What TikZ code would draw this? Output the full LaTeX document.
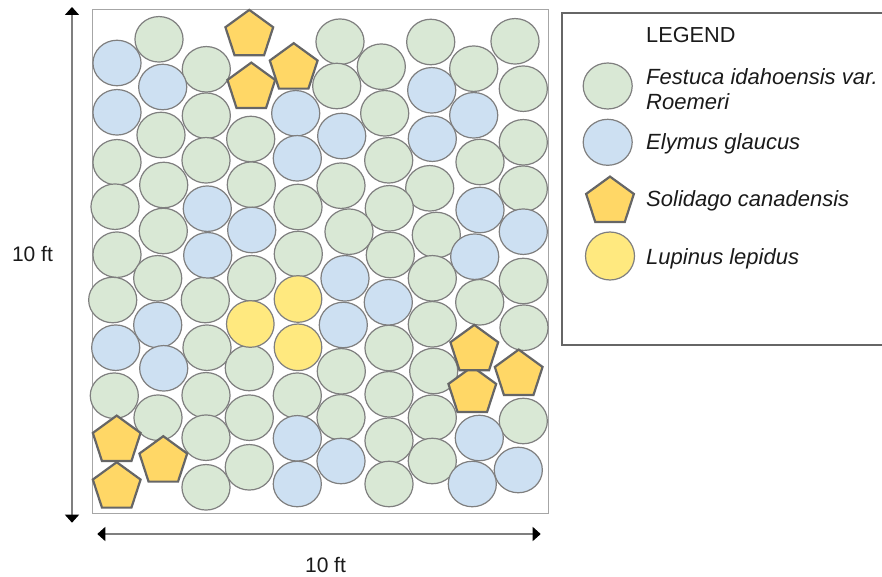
\documentclass[tikz,border=0pt]{standalone}
\usepackage{fontspec}
\setmainfont{Liberation Sans}
\usetikzlibrary{shapes.geometric,arrows.meta}
\definecolor{cgreen}{HTML}{D9E8D5}
\definecolor{cblue}{HTML}{CDE0F2}
\definecolor{cgold}{HTML}{FFD766}
\definecolor{cyel}{HTML}{FFE97F}
\definecolor{cedge}{HTML}{7F7F7F}
\definecolor{cedgeb}{HTML}{666666}
\definecolor{ctxt}{HTML}{1A1A1A}
\tikzset{
  plant/.style={ellipse,draw=cedge,line width=1.2pt,inner sep=0pt,outer sep=0pt,minimum width=48.1pt,minimum height=45.5pt},
  greenplant/.style={plant,fill=cgreen},
  blueplant/.style={plant,fill=cblue},
  yellowplant/.style={plant,fill=cyel,minimum width=47.6pt,minimum height=46.6pt},
  pentplant/.style={regular polygon,regular polygon sides=5,draw=cedgeb,line width=2.2pt,fill=cgold,inner sep=0pt,outer sep=0pt,minimum size=50.2pt},
  label/.style={anchor=base west,inner sep=0pt,text=ctxt,font=\fontsize{21}{25}\selectfont},
  legendhead/.style={label,font=\fontsize{21.7}{25}\selectfont},
  species/.style={label,font=\fontsize{22}{25}\selectfont\itshape},
  dim/.style={draw=cedge,line width=1.5pt,{Triangle[length=8pt,width=14pt,color=black]}-{Triangle[length=8pt,width=14pt,color=black]}}
}
\begin{document}
\begin{tikzpicture}[x=1pt,y=-1pt]
\useasboundingbox (0,0) rectangle (882,577);
\node[draw=gray!70,line width=1.3pt,fill=white,inner sep=0pt,outer sep=0pt,minimum width=455.6pt,minimum height=503.6pt] (plot) at (320.5,261.5) {};
\foreach \x/\y [count=\i] in {159/39.3,206.3/69.3,161/135,206.3/115.7,250.7/139,117/162.3,206/160.3,163.7/185,251.3/184.7,115/206.7,163.3/231,298/207,117/254.7,298.3/254,340/41.7,381.3/66.7,430.7/42,473.7/68.7,515/41.3,336.7/86,523.3/88.7,384.7/113.3,523.3/142.3,388.7/160.3,480/162,341/185.7,429.7/188.3,523.3/188.7,389.3/208.3,349/231.7,436.3/235,390.3/255,157.7/278.3,251.7/278.3,112.7/300,205.3/300,207/347.7,249.3/368,114.3/395.7,206/395.3,297.3/395.7,158/417.7,249.3/417.7,206/437.7,249.3/467.3,206/487.3,432.3/278.3,523.3/281,479.7/302.3,432.3/324.3,524/327.7,389/348,341.3/371.3,433.7/371,389/394.3,341/417.3,432.3/417.7,523.3/421,389/440.7,432.3/461,389/484}
  \node[greenplant] (g\i) at (\x,\y) {};
\foreach \x/\y [count=\i] in {117/63,162.7/87,117/112.3,295.7/113.3,297.3/158.3,207.3/208.7,251.7/230,207.7/255.3,431.7/90.3,473.7/115.3,341.7/136,432.3/138.7,480/210,523.3/231.7,474.7/256.7,157.7/325,115.7/347.7,163.7/368.3,297.3/438.3,297.3/484,345/278.3,388.3/302.3,343.3/325,479.3/438,341/461,518.3/470,472.3/484}
  \node[blueplant] (b\i) at (\x,\y) {};
\foreach \x/\y [count=\i] in {298/299,250.3/324,298/347.3}
  \node[yellowplant] (y\i) at (\x,\y) {};
\foreach \x/\y [count=\i] in {249.3/35,251.3/87.7,293.7/68.3,116.7/440.7,163.3/461.3,116.7/487.3,472.3/391.7,474.3/350,518.7/374.7}
  \node[pentplant] (p\i) at (\x,\y) {};
% dimension arrows
\coordinate (vt) at (72,7);
\coordinate (vb) at (72,522.7);
\coordinate (hl) at (97.3,534);
\coordinate (hr) at (540.7,534);
\draw[dim] (vt) -- (vb);
\draw[dim] (hl) -- (hr);
\node[label,anchor=base] (dimv) at (32.5,261) {10 ft};
\node[label,anchor=base] (dimh) at (325.5,572) {10 ft};
% legend
\draw[draw=cedgeb,line width=1.6pt] (882,13.3) -- (561.7,13.3) -- (561.7,345) -- (882,345);
\node[legendhead] (legtitle) at (646,42.3) {LEGEND};
\node[greenplant,minimum width=49pt,minimum height=46pt] (lg) at (607.7,86) {};
\node[blueplant,minimum width=49pt,minimum height=46pt] (lb) at (607.7,142.3) {};
\node[pentplant] (lp) at (610,201.7) {};
\node[yellowplant,minimum width=49pt,minimum height=48pt] (ly) at (610,256) {};
\node[species] (t1) at (646,85) {Festuca idahoensis var.};
\node[species] (t2) at (646,110) {Roemeri};
\node[species] (t3) at (646,150) {Elymus glaucus};
\node[species] (t4) at (646,206.7) {Solidago canadensis};
\node[species] (t5) at (646,264) {Lupinus lepidus};
\end{tikzpicture}
\end{document}
